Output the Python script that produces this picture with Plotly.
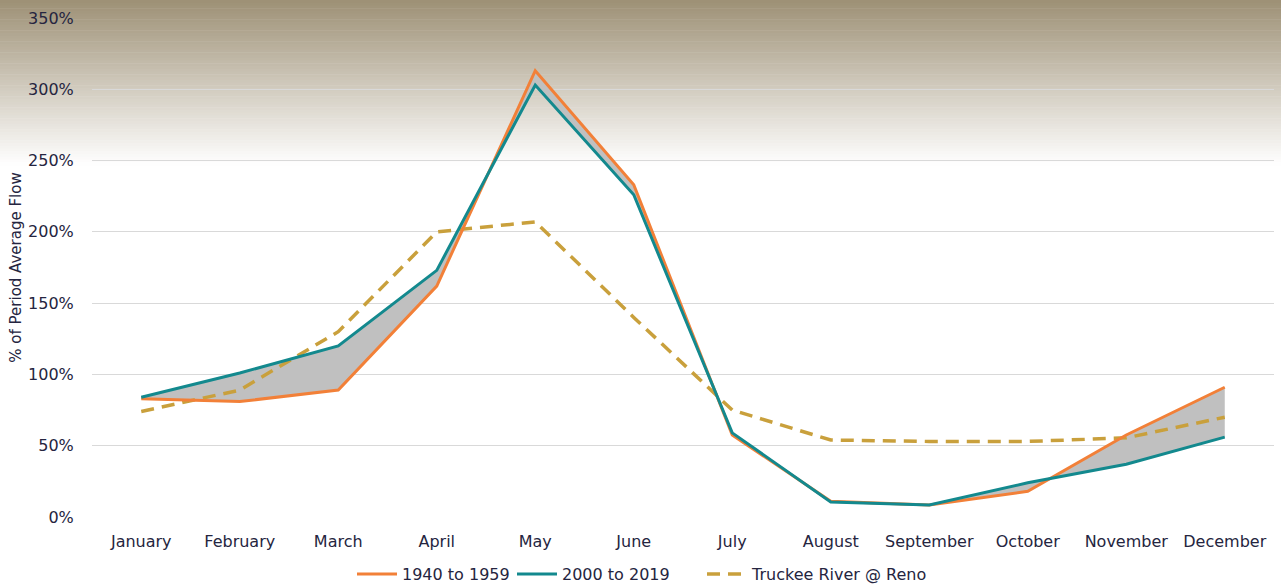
import plotly.graph_objects as go

months = ["January", "February", "March", "April", "May", "June", "July",
          "August", "September", "October", "November", "December"]
flow_1940_1959 = [0.83, 0.81, 0.89, 1.62, 3.13, 2.33, 0.575, 0.11, 0.085, 0.18, 0.575, 0.91]
flow_2000_2019 = [0.84, 1.01, 1.20, 1.73, 3.03, 2.26, 0.59, 0.105, 0.085, 0.24, 0.37, 0.56]
truckee_reno = [0.74, 0.89, 1.30, 2.00, 2.07, 1.40, 0.75, 0.54, 0.53, 0.53, 0.555, 0.70]
y_ticks = [0, 0.5, 1.0, 1.5, 2.0, 2.5, 3.0, 3.5]
y_tick_labels = ["0%", "50%", "100%", "150%", "200%", "250%", "300%", "350%"]

ORANGE = "#f28038"
TEAL = "#13898e"
GOLD = "#c9a03c"
FILL = "#c0c0c0"
TEXT = "#252540"
FONT = "DejaVu Sans"
FS = 16

W, H = 1281, 587
ML, MR, MT, MB = 92, 7, 18, 70
plot_h = H - MT - MB
plot_w = W - ML - MR

fig = go.Figure()

# shaded band between the two period curves
fig.add_trace(go.Scatter(x=months, y=flow_1940_1959, mode="lines",
                         line=dict(width=0, color=ORANGE), showlegend=False,
                         hoverinfo="skip"))
fig.add_trace(go.Scatter(x=months, y=flow_2000_2019, mode="lines",
                         line=dict(width=0, color=TEAL), fill="tonexty",
                         fillcolor=FILL, showlegend=False, hoverinfo="skip"))

fig.add_trace(go.Scatter(x=months, y=truckee_reno, mode="lines",
                         name="Truckee River @ Reno", legend="legend3",
                         line=dict(color=GOLD, width=3.5, dash="13px,8px")))
fig.add_trace(go.Scatter(x=months, y=flow_1940_1959, mode="lines",
                         name="1940 to 1959", legend="legend",
                         line=dict(color=ORANGE, width=3)))
fig.add_trace(go.Scatter(x=months, y=flow_2000_2019, mode="lines",
                         name="2000 to 2019", legend="legend2",
                         line=dict(color=TEAL, width=3)))

# top-of-page tan-to-white gradient background
shapes = []
n = 60
grad_px = 165
top_rgb = (157, 144, 117)
for i in range(n):
    p0 = i * grad_px / n
    p1 = (i + 1) * grad_px / n + 0.6
    t = (i + 0.5) / n
    c = tuple(int(round(a + (255 - a) * t)) for a in top_rgb)
    y0 = (H - MB - p1) / plot_h
    y1 = (H - MB - p0) / plot_h
    shapes.append(dict(type="rect", xref="paper", yref="paper",
                       x0=-(ML + 5) / plot_w, x1=1 + (MR + 5) / plot_w,
                       y0=y0, y1=y1, line=dict(width=0),
                       fillcolor="rgb(%d,%d,%d)" % c, layer="below"))


def legend_at(px_left):
    return dict(orientation="h", x=(px_left - ML) / plot_w, xanchor="left",
                y=(H - MB - 574) / plot_h, yanchor="middle",
                font=dict(size=FS, color=TEXT), bgcolor="rgba(0,0,0,0)",
                itemwidth=40)


fig.update_layout(
    width=W, height=H,
    margin=dict(l=ML, r=MR, t=MT, b=MB, autoexpand=False),
    paper_bgcolor="white", plot_bgcolor="rgba(0,0,0,0)",
    font=dict(family=FONT, size=FS, color=TEXT),
    shapes=shapes,
    showlegend=True,
    legend=legend_at(352),
    legend2=legend_at(512),
    legend3=legend_at(702),
    xaxis=dict(type="category", range=[-0.5, 11.5], showgrid=False,
               zeroline=False, showline=False, ticks="outside", ticklen=10,
               tickcolor="rgba(0,0,0,0)", tickfont=dict(size=FS, color=TEXT)),
    yaxis=dict(range=[0, 3.5], tickvals=y_ticks, ticktext=y_tick_labels,
               showgrid=True, gridcolor="#d9d9d9", gridwidth=1.3,
               zeroline=False, showline=False, ticks="outside", ticklen=14,
               tickcolor="rgba(0,0,0,0)", tickfont=dict(size=FS, color=TEXT),
               title=dict(text="% of Period Average Flow",
                          font=dict(size=FS - 1, color=TEXT), standoff=2)),
)

fig.write_html("out.html", config={"displayModeBar": False},
               post_script="document.body.style.margin='0';")
